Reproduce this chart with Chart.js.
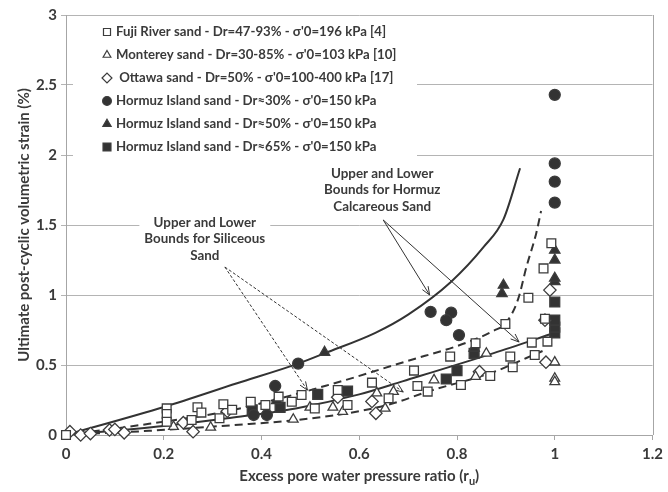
<!DOCTYPE html>
<html>
<head>
<meta charset="utf-8">
<script src="https://cdn.jsdelivr.net/npm/chart.js@4.4.1/dist/chart.umd.min.js"></script>
<style>
    html, body { margin: 0; padding: 0; background: #ffffff; }
    #wrap { width: 668px; height: 492px; }
</style>
</head>
<body>
<div id="wrap"><canvas id="strainChart" width="668" height="492"></canvas></div>
<script>
// Measured points: [ru, volumetric strain %]
const fujiRiver = [
    [0.0, 0.0], [0.206, 0.19], [0.206, 0.15], [0.206, 0.095], [0.269, 0.198], [0.277, 0.16],
    [0.257, 0.107], [0.322, 0.22], [0.314, 0.12], [0.34, 0.18], [0.378, 0.238], [0.408, 0.214],
    [0.435, 0.274], [0.462, 0.238], [0.482, 0.286], [0.509, 0.19], [0.556, 0.321], [0.576, 0.214],
    [0.626, 0.374], [0.66, 0.262], [0.712, 0.46], [0.719, 0.35], [0.74, 0.31], [0.786, 0.56],
    [0.808, 0.357], [0.838, 0.655], [0.868, 0.421], [0.899, 0.793], [0.909, 0.56], [0.914, 0.484],
    [0.946, 0.98], [0.953, 0.66], [0.959, 0.571], [0.977, 1.19], [0.98, 0.83], [0.985, 0.667],
    [0.993, 1.37]
];
const monterey = [
    [0.22, 0.06], [0.296, 0.055], [0.465, 0.112], [0.499, 0.198], [0.546, 0.198], [0.566, 0.167],
    [0.636, 0.30], [0.653, 0.19], [0.67, 0.31], [0.753, 0.393], [0.838, 0.417], [0.86, 0.583],
    [1.0, 0.52], [1.0, 0.405], [1.0, 0.38]
];
const ottawa = [
    [0.008, 0.024], [0.03, 0.0], [0.05, 0.01], [0.089, 0.036], [0.10, 0.04], [0.119, 0.016],
    [0.24, 0.088], [0.26, 0.024], [0.33, 0.17], [0.556, 0.27], [0.626, 0.24], [0.634, 0.155],
    [0.846, 0.452], [0.982, 0.52], [0.98, 0.82], [0.99, 1.035]
];
const hormuz30 = [
    [0.475, 0.51], [0.428, 0.35], [0.384, 0.143], [0.411, 0.143], [0.746, 0.88], [0.788, 0.874],
    [0.778, 0.82], [0.804, 0.714], [1.0, 1.66], [1.0, 1.81], [1.0, 1.94], [1.0, 2.43]
];
const hormuz50 = [
    [0.529, 0.59], [0.431, 0.245], [0.835, 0.62], [0.892, 1.01], [0.895, 1.07],
    [1.0, 1.095], [1.0, 1.12], [1.0, 1.25], [1.0, 1.32]
];
const hormuz65 = [
    [0.381, 0.18], [0.438, 0.198], [0.515, 0.29], [0.576, 0.314], [0.778, 0.4], [0.80, 0.46],
    [0.835, 0.583], [1.0, 0.73], [1.0, 0.77], [1.0, 0.82], [1.0, 0.95]
];

// Bound curves
const hormuzUpper = [
    [0, 0], [0.2, 0.2], [0.35, 0.37], [0.475, 0.51], [0.53, 0.585], [0.633, 0.73], [0.7, 0.86],
    [0.788, 1.095], [0.855, 1.345], [0.895, 1.54], [0.929, 1.905]
];
const hormuzLower = [
    [0, 0], [0.2, 0.065], [0.33, 0.12], [0.47, 0.19], [0.6, 0.29], [0.69, 0.385], [0.875, 0.585], [1.0, 0.73]
];
const siliceousUpper = [
    [0, 0], [0.17, 0.08], [0.33, 0.17], [0.54, 0.36], [0.694, 0.524], [0.82, 0.66], [0.875, 0.745],
    [0.9, 0.8], [0.925, 0.97], [0.942, 1.2], [0.962, 1.44], [0.972, 1.6]
];
const siliceousLower = [
    [0, 0], [0.17, 0.03], [0.344, 0.071], [0.472, 0.107], [0.6, 0.17], [0.673, 0.23], [0.74, 0.31],
    [0.875, 0.45], [0.942, 0.55], [0.975, 0.6]
];

const seriesNames = [
    "Fuji River sand - Dr=47-93% - σ'0=196 kPa [4]",
    "Monterey sand - Dr=30-85% - σ'0=103 kPa [10]",
    " Ottawa sand - Dr=50% - σ'0=100-400 kPa [17]",
    "Hormuz Island sand - Dr≈30% - σ'0=150 kPa",
    "Hormuz Island sand - Dr≈50% - σ'0=150 kPa",
    "Hormuz Island sand - Dr≈65% - σ'0=150 kPa"
];

// Axis ranges
const xMin = 0, xMax = 1.2, xStep = 0.2;
const yMin = 0, yMax = 3, yStep = 0.5;

// Callout notes: text lines, anchor [ru, strain] of first line, arrow start and arrow tips
const hormuzNote = ['Upper and Lower', 'Bounds for Hormuz', 'Calcareous Sand'];
const hormuzNoteAt = [0.647, 1.87];
const hormuzArrowFrom = [0.649, 1.536];
const hormuzArrowTo = [[0.744, 1.0], [0.927, 0.664]];
const siliceousNote = ['Upper and Lower', 'Bounds for Siliceous', 'Sand'];
const siliceousNoteAt = [0.284, 1.52];
const siliceousArrowFrom = [0.325, 1.2];
const siliceousArrowTo = [[0.494, 0.32], [0.69, 0.307]];

const FONT = 'Lato, "Open Sans", sans-serif';
const INK = '#333333';
const EDGE = '#3c3c3c';
const TEXT = '#3a3a3a';

function toXY(arr) {
    return arr.map(p => ({ x: p[0], y: p[1] }));
}

const markerStyles = [
    { pointStyle: 'rect', radius: 6.2, fill: '#ffffff' },
    { pointStyle: 'triangle', radius: 5.6, fill: '#ffffff' },
    { pointStyle: 'rectRot', radius: 6.2, fill: '#ffffff' },
    { pointStyle: 'circle', radius: 5.5, fill: INK },
    { pointStyle: 'triangle', radius: 6, fill: INK },
    { pointStyle: 'rect', radius: 7, fill: INK }
];

function markerSet(data, i) {
    const s = markerStyles[i];
    return {
        label: seriesNames[i],
        data: toXY(data),
        showLine: false,
        pointStyle: s.pointStyle,
        pointRadius: s.radius,
        pointBackgroundColor: s.fill,
        pointBorderColor: EDGE,
        pointBorderWidth: 1.3,
        clip: false,
        order: 0
    };
}

function curveSet(data, dashed) {
    return {
        label: '',
        data: toXY(data),
        showLine: true,
        borderColor: INK,
        borderWidth: 2,
        borderDash: dashed ? [8, 5] : [],
        pointRadius: 0,
        cubicInterpolationMode: 'monotone',
        fill: false,
        order: 1
    };
}

function arrow(ctx, x0, y0, x1, y1) {
    ctx.beginPath();
    ctx.moveTo(x0, y0);
    ctx.lineTo(x1, y1);
    ctx.stroke();
    const a = Math.atan2(y1 - y0, x1 - x0);
    const len = 9, spread = 0.38;
    ctx.setLineDash([]);
    ctx.beginPath();
    ctx.moveTo(x1 - len * Math.cos(a - spread), y1 - len * Math.sin(a - spread));
    ctx.lineTo(x1, y1);
    ctx.lineTo(x1 - len * Math.cos(a + spread), y1 - len * Math.sin(a + spread));
    ctx.stroke();
}

function drawNote(ctx, xs, ys, lines, at, from, tips, dashed) {
    const cx = xs.getPixelForValue(at[0]);
    const top = ys.getPixelForValue(at[1]);
    const lh = 16.8;
    ctx.font = 'bold 13.4px ' + FONT;
    let w = 0;
    lines.forEach(t => { w = Math.max(w, ctx.measureText(t).width); });
    ctx.fillStyle = '#ffffff';
    ctx.fillRect(cx - w / 2 - 5, top - 11, w + 10, lh * lines.length + 6);
    ctx.fillStyle = TEXT;
    ctx.textAlign = 'center';
    ctx.textBaseline = 'middle';
    lines.forEach((t, i) => ctx.fillText(t, cx, top + i * lh));

    ctx.strokeStyle = '#333333';
    ctx.lineWidth = 1;
    tips.forEach(tp => {
        ctx.setLineDash(dashed ? [3, 2] : []);
        arrow(ctx, xs.getPixelForValue(from[0]), ys.getPixelForValue(from[1]),
            xs.getPixelForValue(tp[0]), ys.getPixelForValue(tp[1]));
    });
    ctx.setLineDash([]);
}

const overlayPlugin = {
    id: 'overlay',
    beforeDatasetsDraw(chart) {
        const ctx = chart.ctx;
        const area = chart.chartArea;
        const xs = chart.scales.x, ys = chart.scales.y;
        ctx.save();

        // right edge of the plot frame
        ctx.strokeStyle = '#a6a6a6';
        ctx.lineWidth = 1;
        ctx.beginPath();
        ctx.moveTo(Math.round(area.right) + 0.5, area.top);
        ctx.lineTo(Math.round(area.right) + 0.5, area.bottom);
        ctx.stroke();

        // legend panel
        const lx = area.left + 7, ly = area.top + 3;
        ctx.fillStyle = '#ffffff';
        ctx.fillRect(lx, ly, 344, 142);
        ctx.font = 'bold 13.2px ' + FONT;
        ctx.textAlign = 'left';
        ctx.textBaseline = 'middle';
        seriesNames.forEach((name, i) => {
            const y = area.top + 17 + i * 23;
            const s = markerStyles[i];
            ctx.fillStyle = s.fill;
            ctx.strokeStyle = EDGE;
            ctx.lineWidth = 1.2;
            Chart.helpers.drawPoint(ctx, {
                pointStyle: s.pointStyle,
                radius: s.radius * 0.8,
                rotation: 0,
                borderWidth: 1.2
            }, area.left + 41, y);
            ctx.fillStyle = TEXT;
            ctx.fillText(name, area.left + 50, y);
        });

        drawNote(ctx, xs, ys, hormuzNote, hormuzNoteAt, hormuzArrowFrom, hormuzArrowTo, false);
        drawNote(ctx, xs, ys, siliceousNote, siliceousNoteAt, siliceousArrowFrom, siliceousArrowTo, true);

        // x axis title with subscript
        const tx = (area.left + area.right) / 2;
        const ty = 476;
        ctx.fillStyle = TEXT;
        ctx.textBaseline = 'middle';
        ctx.textAlign = 'left';
        const main = 'Excess pore water pressure ratio (r';
        const big = 'bold 15px ' + FONT, small = 'bold 11px ' + FONT;
        ctx.font = big;
        const w1 = ctx.measureText(main).width;
        const w3 = ctx.measureText(')').width;
        ctx.font = small;
        const w2 = ctx.measureText('u').width;
        let x = tx - (w1 + w2 + w3) / 2;
        ctx.font = big;
        ctx.fillText(main, x, ty);
        ctx.font = small;
        ctx.fillText('u', x + w1, ty + 5);
        ctx.font = big;
        ctx.fillText(')', x + w1 + w2, ty);
        ctx.restore();
    }
};

const ctx = document.getElementById('strainChart').getContext('2d');
const strainChart = new Chart(ctx, {
    type: 'scatter',
    data: {
        datasets: [
            markerSet(fujiRiver, 0),
            markerSet(monterey, 1),
            markerSet(ottawa, 2),
            markerSet(hormuz30, 3),
            markerSet(hormuz50, 4),
            markerSet(hormuz65, 5),
            curveSet(hormuzUpper, false),
            curveSet(hormuzLower, false),
            curveSet(siliceousUpper, true),
            curveSet(siliceousLower, true)
        ]
    },
    options: {
        responsive: false,
        animation: false,
        devicePixelRatio: 1,
        layout: { padding: { left: 0, right: 7, top: 15, bottom: 0 } },
        plugins: {
            legend: { display: false },
            tooltip: { enabled: false }
        },
        scales: {
            x: {
                type: 'linear',
                min: xMin,
                max: xMax,
                afterFit: function (scale) { scale.height = 57; },
                ticks: {
                    stepSize: xStep,
                    padding: 5,
                    color: TEXT,
                    font: { family: FONT, size: 15, weight: 'bold' },
                    callback: v => String(+v.toFixed(1))
                },
                grid: { drawOnChartArea: false, drawTicks: true, tickLength: 5, color: '#a6a6a6' },
                border: { display: true, color: '#a6a6a6' }
            },
            y: {
                type: 'linear',
                min: yMin,
                max: yMax,
                afterFit: function (scale) { scale.width = 66; },
                ticks: {
                    stepSize: yStep,
                    padding: 4,
                    color: TEXT,
                    font: { family: FONT, size: 15, weight: 'bold' },
                    callback: v => String(+v.toFixed(1))
                },
                grid: { color: '#b4b4b4', tickLength: 5 },
                border: { display: true, color: '#a6a6a6' },
                title: {
                    display: true,
                    text: 'Ultimate post-cyclic volumetric strain (%)',
                    color: TEXT,
                    font: { family: FONT, size: 15, weight: 'bold' },
                    padding: { top: 15, bottom: 0 }
                }
            }
        }
    },
    plugins: [overlayPlugin]
});
</script>
</body>
</html>
